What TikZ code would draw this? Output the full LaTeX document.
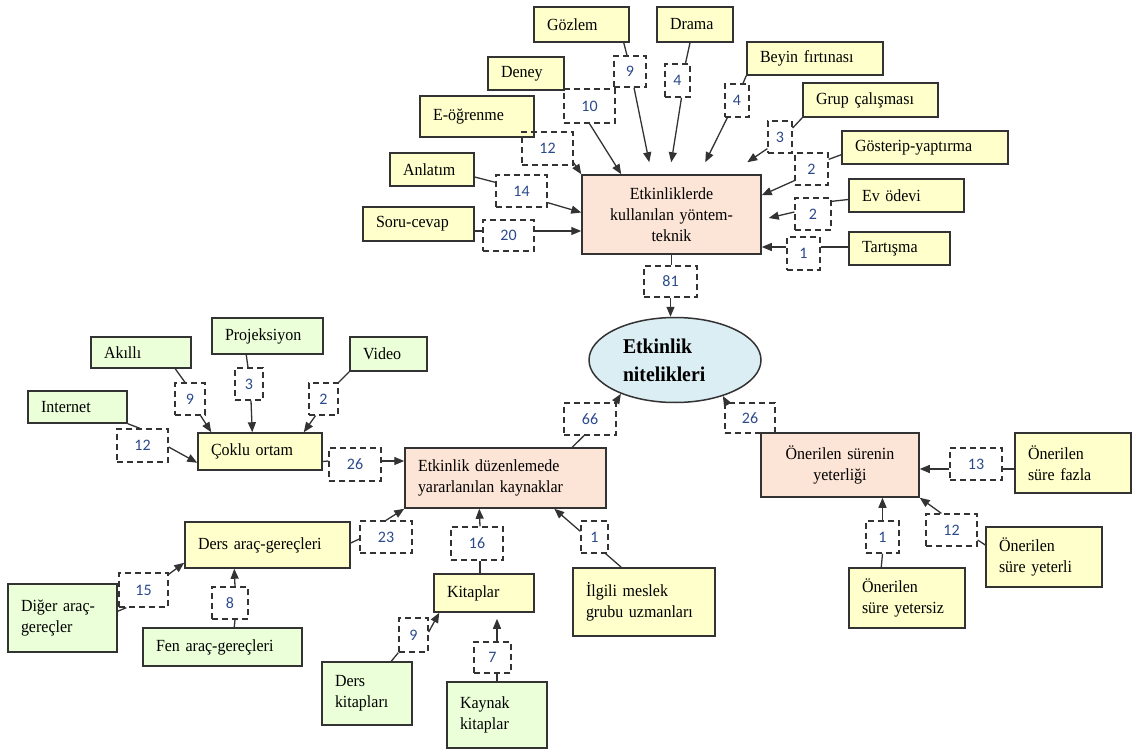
\documentclass[tikz,border=0pt]{standalone}
\usepackage{fontspec}
\setmainfont{Liberation Serif}[FakeStretch=0.94]
\newfontfamily\numfont{Carlito}
\usetikzlibrary{arrows.meta,shapes.geometric,calc}
\definecolor{boxyellow}{HTML}{FFFFCC}
\definecolor{boxgreen}{HTML}{EBFFD9}
\definecolor{boxpeach}{HTML}{FCE4D6}
\definecolor{ellblue}{HTML}{DBEEF4}
\definecolor{numblue}{HTML}{2B4A8B}
\definecolor{edge}{HTML}{333333}

\begin{document}
\begin{tikzpicture}[x=1pt,y=-1pt,
  box/.style={draw=edge, line width=1.5pt, inner xsep=13pt, inner ysep=0pt,
    align=left, font=\fontsize{17}{21}\selectfont, text=black},
  ybox/.style={box, fill=boxyellow},
  gbox/.style={box, fill=boxgreen},
  pbox/.style={box, fill=boxpeach},
  num/.style 2 args={draw=edge, line width=1.3pt, dash pattern=on 6pt off 4pt,
    inner sep=0pt, minimum width=#1, minimum height=#2,
    font=\numfont\fontsize{16}{19}\selectfont, text=numblue},
  link/.style={draw=edge, line width=1.3pt},
  arr/.style={link, -{Triangle[length=10pt,width=8pt]}},
]
\useasboundingbox (0,0) rectangle (1133,749);

% ---------- methods and techniques ----------
\node[ybox, text width=69pt, minimum height=35pt] (gozlem) at (581.5,24.5) {Gözlem};
\node[ybox, text width=50pt, minimum height=35pt] (drama) at (695,24.5) {Drama};
\node[ybox, text width=50pt, minimum height=33pt] (deney) at (526,73.5) {Deney};
\node[ybox, text width=110pt, minimum height=33pt] (beyin) at (815,58.5) {Beyin fırtınası};
\node[ybox, text width=88pt, minimum height=41pt] (eog) at (477,116.5) {E-öğrenme};
\node[ybox, text width=109pt, minimum height=34pt] (grup) at (870.5,100) {Grup çalışması};
\node[ybox, text width=58pt, minimum height=33pt] (anlatim) at (432,169.5) {Anlatım};
\node[ybox, text width=140pt, minimum height=33pt] (gosterip) at (925,147.5) {Gösterip-yaptırma};
\node[ybox, text width=85pt, minimum height=34pt] (soru) at (418.5,224) {Soru-cevap};
\node[ybox, text width=89pt, minimum height=33pt] (ev) at (906.5,195.5) {Ev ödevi};
\node[ybox, text width=75pt, minimum height=33pt] (tartisma) at (899.5,248.5) {Tartışma};
\node[pbox, align=center, text width=153pt, minimum height=79pt] (yontem) at (671.5,214.5)
  {Etkinliklerde\\kullanılan yöntem-\\teknik};

\node[num={32pt}{31pt}] (n9a) at (630,71.5) {9};
\node[num={25pt}{33pt}] (n4a) at (677.5,80.5) {4};
\node[num={51pt}{34pt}] (n10) at (589.5,106) {10};
\node[num={24pt}{33pt}] (n4b) at (737,100.5) {4};
\node[num={51pt}{33pt}] (n12a) at (547.5,148.5) {12};
\node[num={24pt}{32pt}] (n3a) at (780,137) {3};
\node[num={51pt}{32pt}] (n14) at (521.5,191) {14};
\node[num={33pt}{32pt}] (n2a) at (811.5,169) {2};
\node[num={51pt}{31pt}] (n20) at (508.5,235.5) {20};
\node[num={36pt}{32pt}] (n2b) at (813,214) {2};
\node[num={33pt}{33pt}] (n1a) at (803.5,253.5) {1};
\node[num={53pt}{31pt}] (n81) at (670.5,281.5) {81};

% ---------- central ellipse ----------
\node[draw=edge, line width=1.5pt, fill=ellblue, ellipse, minimum width=172pt,
  minimum height=85pt, inner sep=0pt, text width=104pt, align=left,
  font=\bfseries\fontsize{21}{28}\selectfont] (ell) at (675,360) {Etkinlik\\nitelikleri};

% ---------- resources ----------
\node[gbox, text width=74pt, minimum height=31pt] (akilli) at (141,352.5) {Akıllı};
\node[gbox, text width=85pt, minimum height=36pt] (proj) at (267.5,336) {Projeksiyon};
\node[gbox, text width=51pt, minimum height=34pt] (video) at (388.5,354) {Video};
\node[gbox, text width=73pt, minimum height=32pt] (internet) at (77.5,407) {Internet};
\node[ybox, text width=98pt, minimum height=37pt] (coklu) at (260,451.5) {Çoklu ortam};
\node[pbox, text width=175pt, minimum height=60pt] (kaynak) at (505.5,478)
  {Etkinlik düzenlemede\\yararlanılan kaynaklar};
\node[ybox, text width=139pt, minimum height=46pt] (dersarac) at (267.5,545) {Ders araç-gereçleri};
\node[gbox, text width=83pt, minimum height=68pt] (diger) at (62.5,618) {Diğer araç-\\gereçler};
\node[gbox, text width=133pt, minimum height=38pt] (fen) at (222.5,647) {Fen araç-gereçleri};
\node[ybox, text width=74pt, minimum height=38pt] (kitaplar) at (484,593) {Kitaplar};
\node[ybox, text width=116pt, minimum height=68pt] (ilgili) at (644,602) {İlgili meslek\\grubu uzmanları};
\node[gbox, text width=64pt, minimum height=63pt] (derskit) at (367,693.5) {Ders\\kitapları};
\node[gbox, text width=74pt, minimum height=66pt] (kaynakkit) at (497,715) {Kaynak\\kitaplar};

\node[num={30pt}{32pt}] (n9b) at (190,399) {9};
\node[num={28pt}{32pt}] (n3b) at (249,384) {3};
\node[num={29pt}{32pt}] (n2c) at (323.5,399) {2};
\node[num={51pt}{33pt}] (n12b) at (142.5,445.5) {12};
\node[num={52pt}{33pt}] (n26a) at (355,464.5) {26};
\node[num={52pt}{32pt}] (n66) at (590,419) {66};
\node[num={49pt}{34pt}] (n15) at (143.5,590) {15};
\node[num={36pt}{32pt}] (n8) at (230,603) {8};
\node[num={52pt}{32pt}] (n23) at (386,537) {23};
\node[num={52pt}{33pt}] (n16) at (477,543.5) {16};
\node[num={27pt}{32pt}] (n1c) at (594.5,537) {1};
\node[num={29pt}{34pt}] (n9c) at (413.5,635) {9};
\node[num={37pt}{31pt}] (n7) at (492.5,657.5) {7};

% ---------- suggested duration ----------
\node[pbox, align=center, text width=132pt, minimum height=64pt] (sure) at (840,465)
  {Önerilen sürenin\\yeterliği};
\node[ybox, text width=90pt, minimum height=60pt] (fazla) at (1073,463) {Önerilen\\süre fazla};
\node[ybox, text width=90pt, minimum height=60pt] (yetersiz) at (907,598) {Önerilen\\süre yetersiz};
\node[ybox, text width=90pt, minimum height=60pt] (yeterli) at (1044,557) {Önerilen\\süre yeterli};

\node[num={50pt}{30pt}] (n26b) at (750,418) {26};
\node[num={52pt}{32pt}] (n13) at (976,464) {13};
\node[num={33pt}{32pt}] (n1b) at (882.5,537) {1};
\node[num={51pt}{32pt}] (n12c) at (951.5,530) {12};

% ---------- connectors: methods ----------
\draw[link] ($(gozlem.south east)+(-6,0)$) -- ($(n9a.north)+(-3,0)$);
\draw[arr] ($(n9a.south)+(4,0)$) -- ($(yontem.north west)+(68,-12)$);
\draw[link] ($(drama.south)+(-5,0)$) -- ($(n4a.north)+(8,0)$);
\draw[arr] ($(n4a.south)+(4,0)$) -- ($(yontem.north west)+(90,-12)$);
\draw[arr] (n10.south) -- ($(yontem.north west)+(40,0)$);
\draw[link] (beyin.south west) -- ($(n4b.north)+(6,0)$);
\draw[arr] ($(n4b.south west)+(3,0)$) -- ($(yontem.north west)+(124,-12)$);
\draw[arr] ($(n12a.south east)+(0,-3)$) -- (yontem.north west);
\draw[link] (grup.south west) -- ($(n3a.east)+(0,-9)$);
\draw[arr] ($(n3a.south west)+(0,-5)$) -- ($(yontem.north west)+(166,-12)$);
\draw[link] ($(gosterip.south west)+(0,-10)$) -- ($(n2a.north east)+(0,7)$);
\draw[arr] ($(n2a.south west)+(0,-5)$) -- ($(yontem.north east)+(0,21)$);
\draw[link] ($(ev.west)+(0,4)$) -- ($(n2b.north east)+(0,4)$);
\draw[arr] ($(n2b.west)+(0,-2)$) -- ($(yontem.east)+(7,3.5)$);
\draw[link] ($(tartisma.west)+(0,-1.5)$) -- ($(n1a.east)+(0,-6.5)$);
\draw[arr] ($(n1a.west)+(0,-6.5)$) -- ($(yontem.east)+(0,32.5)$);
\draw[link] ($(anlatim.east)+(0,7.5)$) -- ($(n14.north west)+(0,8)$);
\draw[arr] ($(n14.south east)+(0,-5)$) -- ($(yontem.west)+(0,-2)$);
\draw[link] ($(soru.east)+(0,7)$) -- ($(n20.west)+(0,-4.5)$);
\draw[arr] ($(n20.east)+(0,-4.5)$) -- ($(yontem.west)+(0,16.5)$);
\draw[link] (yontem.south) -- (yontem.south |- n81.north);
\draw[arr] (n81.south) -- (n81.south |- ell.north);

% ---------- connectors: resources ----------
\draw[link] ($(akilli.south west)+(85,0)$) -- ($(n9b.north)+(-5,0)$);
\draw[arr] ($(n9b.south east)+(-5,0)$) -- ($(coklu.north west)+(14,0)$);
\draw[link] ($(proj.south west)+(35,0)$) -- ($(n3b.north)+(-1,0)$);
\draw[arr] ($(n3b.south)+(2,0)$) -- ($(coklu.north west)+(55,0)$);
\draw[link] (video.south west) -- (n2c.north east);
\draw[arr] ($(n2c.south)+(-8,0)$) -- ($(coklu.north east)+(-19,0)$);
\draw[link] (internet.south east) -- ($(n12b.north)+(-2.5,0)$);
\draw[arr] ($(n12b.east)+(0,1.5)$) -- ($(coklu.south west)+(0,-8)$);
\draw[link] ($(coklu.east)+(0,10)$) -- ($(n26a.west)+(0,-3.5)$);
\draw[arr] ($(n26a.east)+(0,-3.5)$) -- ($(kaynak.west)+(0,-17)$);
\draw[link] ($(kaynak.north west)+(168,0)$) -- ($(n66.south)+(-6,0)$);
\draw[arr] ($(n66.north east)+(-1,0)$) -- (ell.212);
\draw[link] ($(dersarac.east)+(0,-2)$) -- ($(n23.west)+(0,2)$);
\draw[arr] (n23.north) -- (kaynak.south west);
\draw[link] ($(kitaplar.north)+(-4,0)$) -- ($(n16.south)+(3,0)$);
\draw[arr] ($(n16.north)+(3,0)$) -- ($(kaynak.south west)+(75,0)$);
\draw[link] ($(ilgili.north west)+(49,0)$) -- ($(n1c.south east)+(-3,0)$);
\draw[arr] ($(n1c.north west)+(0,11)$) -- ($(kaynak.south west)+(150,0)$);
\draw[link] ($(diger.north east)+(0,28)$) -- ($(n15.south west)+(8,0)$);
\draw[arr] ($(n15.north east)+(0,2)$) -- ($(dersarac.south west)+(0,-6)$);
\draw[link] ($(fen.north west)+(92,0)$) -- ($(n8.south)+(5,0)$);
\draw[arr] ($(n8.north)+(5,0)$) -- ($(dersarac.south west)+(50,0)$);
\draw[link] ($(derskit.north west)+(70,0)$) -- (n9c.south west);
\draw[arr] ($(n9c.east)+(0,-3)$) -- ($(kitaplar.south west)+(6,0)$);
\draw[link] (kaynakkit.north) -- ($(n7.south)+(4.5,0)$);
\draw[arr] ($(n7.north)+(4.5,0)$) -- ($(kitaplar.south)+(13,6)$);

% ---------- connectors: duration ----------
\draw[arr] ($(n26b.north west)+(2,0)$) -- (ell.-37);
\draw[link] ($(fazla.west)+(0,6)$) -- ($(n13.east)+(0,5)$);
\draw[arr] ($(n13.west)+(0,5)$) -- ($(sure.east)+(0,4)$);
\draw[link] ($(yetersiz.north west)+(33,0)$) -- (n1b.south);
\draw[arr] (n1b.north) -- (n1b.north |- sure.south);
\draw[link] ($(yeterli.west)+(0,-12)$) -- ($(n12c.east)+(0,10)$);
\draw[arr] ($(n12c.north west)+(16,0)$) -- (sure.south east);
\end{tikzpicture}
\end{document}
